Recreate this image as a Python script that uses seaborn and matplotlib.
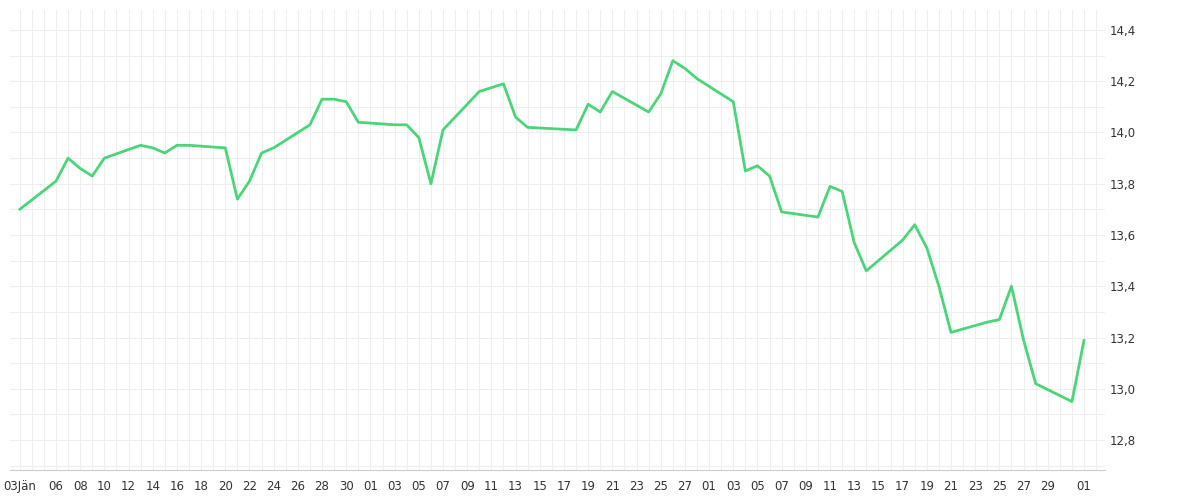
import numpy as np
import pandas as pd
import matplotlib.pyplot as plt
import matplotlib.dates as mdates
from matplotlib.ticker import MultipleLocator, FuncFormatter
import seaborn as sns

dates = ["2025-01-03", "2025-01-06", "2025-01-07", "2025-01-08", "2025-01-09", "2025-01-10",
         "2025-01-13", "2025-01-14", "2025-01-15", "2025-01-16", "2025-01-17", "2025-01-20",
         "2025-01-21", "2025-01-22", "2025-01-23", "2025-01-24", "2025-01-27", "2025-01-28",
         "2025-01-29", "2025-01-30", "2025-01-31", "2025-02-03", "2025-02-04", "2025-02-05",
         "2025-02-06", "2025-02-07", "2025-02-10", "2025-02-12", "2025-02-13", "2025-02-14",
         "2025-02-18", "2025-02-19", "2025-02-20", "2025-02-21", "2025-02-24", "2025-02-25",
         "2025-02-26", "2025-02-27", "2025-02-28", "2025-03-03", "2025-03-04", "2025-03-05",
         "2025-03-06", "2025-03-07", "2025-03-10", "2025-03-11", "2025-03-12", "2025-03-13",
         "2025-03-14", "2025-03-17", "2025-03-18", "2025-03-19", "2025-03-20", "2025-03-21",
         "2025-03-24", "2025-03-25", "2025-03-26", "2025-03-27", "2025-03-28", "2025-03-31",
         "2025-04-01"]
values = [13.70, 13.81, 13.90, 13.86, 13.83, 13.90,
          13.95, 13.94, 13.92, 13.95, 13.95, 13.94,
          13.74, 13.81, 13.92, 13.94, 14.03, 14.13,
          14.13, 14.12, 14.04, 14.03, 14.03, 13.98,
          13.80, 14.01, 14.16, 14.19, 14.06, 14.02,
          14.01, 14.11, 14.08, 14.16, 14.08, 14.15,
          14.28, 14.25, 14.21, 14.12, 13.85, 13.87,
          13.83, 13.69, 13.67, 13.79, 13.77, 13.57,
          13.46, 13.58, 13.64, 13.55, 13.40, 13.22,
          13.26, 13.27, 13.40, 13.19, 13.02, 12.95,
          13.19]

df = pd.DataFrame({"date": pd.to_datetime(dates), "value": values})

tick_dates = ([pd.Timestamp("2025-01-03")]
              + list(pd.date_range("2025-01-06", "2025-01-30", freq="2D"))
              + list(pd.date_range("2025-02-01", "2025-02-27", freq="2D"))
              + list(pd.date_range("2025-03-01", "2025-03-29", freq="2D"))
              + [pd.Timestamp("2025-04-01")])
tick_labels = ["03Jän"] + [d.strftime("%d") for d in tick_dates[1:]]

sns.set_style("white")
plt.rcParams['font.family'] = ['DejaVu Sans']

fig, ax = plt.subplots(figsize=(12, 5), dpi=100)
fig.subplots_adjust(left=0.008, right=0.921, top=0.98, bottom=0.06)

sns.lineplot(data=df, x="date", y="value", ax=ax, color="#4cd47a", linewidth=2)

ax.set_xlim(pd.Timestamp("2025-01-02 04:00"), pd.Timestamp("2025-04-02 18:00"))
ax.set_ylim(12.683, 14.478)
ax.set_xticks(tick_dates)
ax.set_xticklabels(tick_labels)
ax.xaxis.set_minor_locator(mdates.DayLocator())
ax.yaxis.set_major_locator(MultipleLocator(0.2))
ax.yaxis.set_minor_locator(MultipleLocator(0.1))
ax.yaxis.set_major_formatter(FuncFormatter(lambda v, p: f"{v:.1f}".replace(".", ",")))
ax.yaxis.tick_right()
ax.grid(which="both", color="#eeeeee", linewidth=0.8)
ax.tick_params(axis="both", which="both", length=0, labelsize=8.5, colors="#333333")
ax.tick_params(axis="x", which="major", length=4, color="#cccccc")
ax.set_xlabel("")
ax.set_ylabel("")
for s in ["top", "left", "right"]:
    ax.spines[s].set_visible(False)
ax.spines["bottom"].set_color("#cccccc")

fig.savefig("out.png")
